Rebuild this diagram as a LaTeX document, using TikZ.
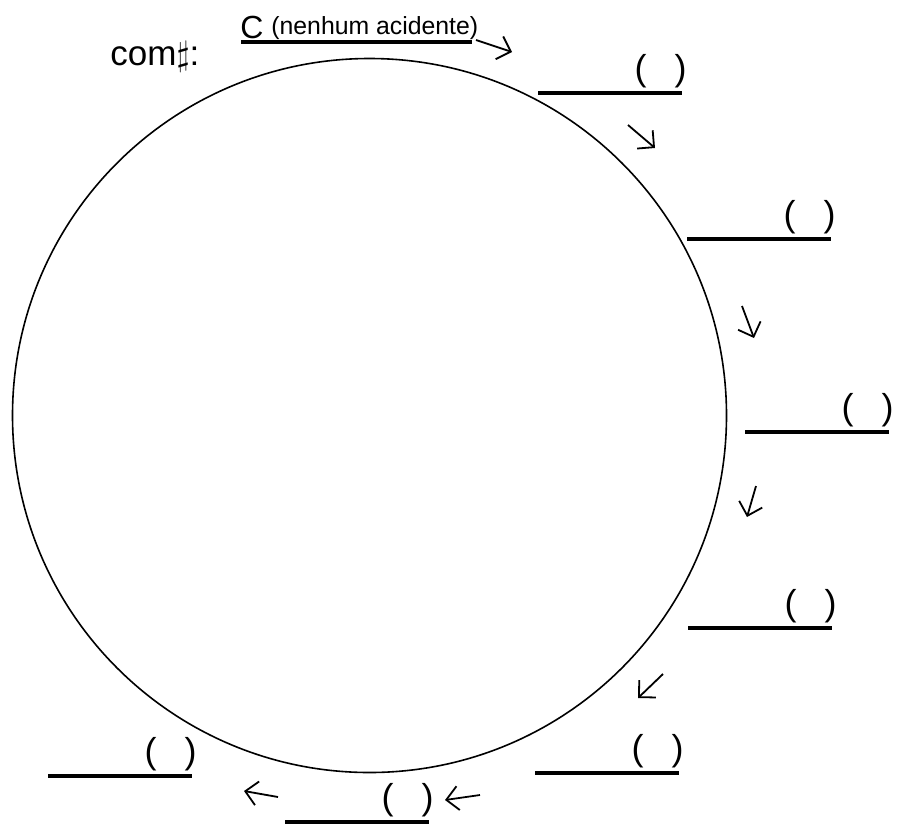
\documentclass[tikz,border=0pt]{standalone}
\usepackage{fontspec}
\setmainfont{Liberation Sans}
\usetikzlibrary{arrows.meta}
\tikzset{
  turnarrow/.style={-{Straight Barb[length=6pt,width=12pt]}, line width=0.9pt},
  ring/.style={draw, circle, line width=0.8pt, minimum size=357pt, inner sep=0pt},
  uline/.style={line width=1.7pt},
  slot/.style={font=\fontsize{18}{20}\selectfont, inner xsep=0pt, inner ysep=2.5pt, text width=74pt, align=right, anchor=south east,
    append after command={(\tikzlastnode.south west) edge[uline] ([xshift=-2.5pt]\tikzlastnode.south east)}},
  headtext/.style={font=\fontsize{17.5}{21}\selectfont, inner sep=0pt, anchor=base west},
  bigc/.style={font=\fontsize{16}{18}\selectfont, inner sep=0pt, anchor=base west},
  note/.style={font=\fontsize{12.4}{15}\selectfont, inner sep=0pt, anchor=base west}
}

\begin{document}
\begin{tikzpicture}[x=0.5pt, y=-0.5pt]
      \useasboundingbox (0,0) rectangle (899,831);
      \node[ring] (ring) at (369.5,415.5) {};
      \node[headtext] (com) at (110,65) {com$\sharp$:};
      % first slot, already filled in
      \node[bigc] (c) at (240,38) {C};
      \node[note] (nota) at (271,34) {(nenhum acidente)};
      \coordinate (u0) at (241,42);
      \coordinate (u1) at (472,42);
      \draw[uline] (u0) -- (u1);
      % empty slots round the ring
      \node[slot] (s2) at (687,93) {(\hspace{14pt})};
      \node[slot] (s3) at (836,239) {(\hspace{14pt})};
      \node[slot] (s4) at (894,432) {(\hspace{14pt})};
      \node[slot] (s5) at (837,628) {(\hspace{14pt})};
      \node[slot] (s6) at (684,773) {(\hspace{14pt})};
      \node[slot] (s7) at (434,822) {(\hspace{14pt})};
      \node[slot] (s8) at (197,776) {(\hspace{14pt})};
      % arrows
      \coordinate (p1) at (476,40);  \coordinate (q1) at (512,52);
      \coordinate (p2) at (628,125); \coordinate (q2) at (655,148);
      \coordinate (p3) at (742,306); \coordinate (q3) at (754,338);
      \coordinate (p4) at (756,486); \coordinate (q4) at (747,517);
      \coordinate (p5) at (663,674); \coordinate (q5) at (638,698);
      \coordinate (p6) at (480,795); \coordinate (q6) at (445,800);
      \coordinate (p7) at (278,797); \coordinate (q7) at (244,791);
      \draw[turnarrow] (p1) -- (q1);
      \draw[turnarrow] (p2) -- (q2);
      \draw[turnarrow] (p3) -- (q3);
      \draw[turnarrow] (p4) -- (q4);
      \draw[turnarrow] (p5) -- (q5);
      \draw[turnarrow] (p6) -- (q6);
      \draw[turnarrow] (p7) -- (q7);
    \end{tikzpicture}
\end{document}
